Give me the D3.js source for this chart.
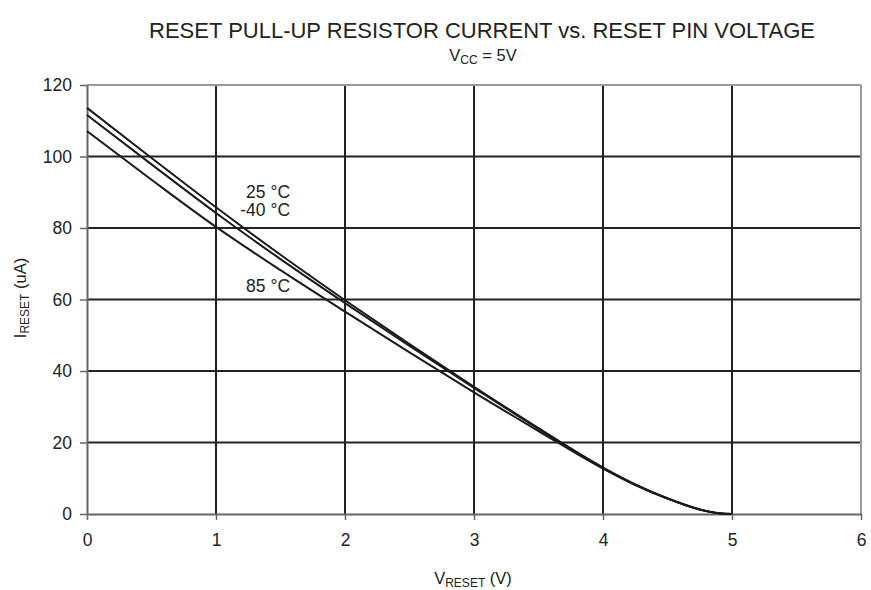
<!DOCTYPE html>
<html>
<head>
<meta charset="utf-8">
<script src="https://cdn.jsdelivr.net/npm/d3@7/dist/d3.min.js"></script>
<style>
  body { margin: 0; background: #fff; }
  svg { font-family: "Liberation Sans", Arial, sans-serif; }
</style>
</head>
<body>
<svg id="chart" width="871" height="590"></svg>
<script>
// Reset pin voltage (V)
const vReset = [0, 0.5, 1, 1.5, 2, 2.5, 3, 3.5, 4, 4.25, 4.5, 4.75, 4.9, 5];
// Pull-up current (uA) per temperature
const i25 = [113.6, 99.6, 85.8, 72.5, 59.8, 47.5, 35.6, 24.0, 13.0, 8.3, 4.4, 1.3, 0.2, 0];
const iM40 = [111.6, 97.8, 84.2, 71.3, 59.0, 47.0, 35.3, 23.8, 12.9, 8.2, 4.3, 1.2, 0.2, 0];
const i85 = [107.1, 93.5, 80.3, 68.2, 56.6, 45.2, 34.0, 23.2, 12.7, 8.1, 4.3, 1.3, 0.2, 0];

const xTicks = [0, 1, 2, 3, 4, 5, 6];
const yTicks = [0, 20, 40, 60, 80, 100, 120];

const seriesLabels = [
  { text: "25 °C", x: 1.574, y: 88.5 },
  { text: "-40 °C", x: 1.574, y: 83.4 },
  { text: "85 °C", x: 1.574, y: 62.0 }
];

const svg = d3.select("#chart");
const plotL = 87, plotR = 861, plotT = 85, plotB = 514;

const x = d3.scaleLinear().domain([0, 6]).range([plotL, plotR]);
const y = d3.scaleLinear().domain([0, 120]).range([plotB, plotT]);

// Titles
svg.append("text").attr("x", 482).attr("y", 38).attr("text-anchor", "middle")
  .attr("font-size", 22).attr("fill", "#222")
  .text("RESET PULL-UP RESISTOR CURRENT vs. RESET PIN VOLTAGE");
const sub = svg.append("text").attr("x", 483).attr("y", 61).attr("text-anchor", "middle")
  .attr("font-size", 16.5).attr("fill", "#222");
sub.append("tspan").text("V");
sub.append("tspan").attr("font-size", 12).attr("dy", 3).text("CC");
sub.append("tspan").attr("dy", -3).text(" = 5V");

// Grid lines
const grid = svg.append("g");
grid.selectAll("line.h").data(yTicks.filter(d => d > 0 && d < 120)).join("line")
  .attr("class", "h")
  .attr("x1", plotL).attr("x2", plotR)
  .attr("y1", d => y(d)).attr("y2", d => y(d))
  .attr("stroke", "#222").attr("stroke-width", 2);
grid.selectAll("line.v").data(xTicks.filter(d => d > 0 && d < 6)).join("line")
  .attr("class", "v")
  .attr("y1", plotT).attr("y2", plotB)
  .attr("x1", d => x(d)).attr("x2", d => x(d))
  .attr("stroke", "#222").attr("stroke-width", 2);

// Frame top/right
svg.append("line").attr("x1", plotL).attr("x2", plotR).attr("y1", plotT).attr("y2", plotT)
  .attr("stroke", "#999").attr("stroke-width", 2);
svg.append("line").attr("x1", plotR).attr("x2", plotR).attr("y1", plotT).attr("y2", plotB)
  .attr("stroke", "#999").attr("stroke-width", 2);

// Axes
const fmt = d3.format("d");
const xAxis = svg.append("g").attr("transform", `translate(0,${plotB})`)
  .call(d3.axisBottom(x).tickValues(xTicks).tickFormat(fmt).tickSize(6).tickSizeOuter(0).tickPadding(14));
const yAxis = svg.append("g").attr("transform", `translate(${plotL},0)`)
  .call(d3.axisLeft(y).tickValues(yTicks).tickFormat(fmt).tickSize(7).tickSizeOuter(0).tickPadding(8));
[xAxis, yAxis].forEach(a => {
  a.select(".domain").attr("stroke", "#666").attr("stroke-width", 2);
  a.selectAll(".tick line").attr("stroke", "#666").attr("stroke-width", 1.5);
  a.selectAll(".tick text").attr("font-size", 17.5).attr("fill", "#222")
    .attr("font-family", "Liberation Sans, Arial, sans-serif");
});

// Curves
const line = d3.line().x(d => x(d[0])).y(d => y(d[1])).curve(d3.curveMonotoneX);
[i25, iM40, i85].forEach(s => {
  svg.append("path").datum(vReset.map((v, i) => [v, s[i]]))
    .attr("d", line).attr("fill", "none").attr("stroke", "#1a1a1a").attr("stroke-width", 2);
});

// Series labels
svg.selectAll("text.lbl").data(seriesLabels).join("text")
  .attr("class", "lbl")
  .attr("x", d => x(d.x)).attr("y", d => y(d.y)).attr("text-anchor", "end")
  .attr("font-size", 17.5).attr("fill", "#222").text(d => d.text);

// Axis titles
const xt = svg.append("text").attr("x", 473).attr("y", 584).attr("text-anchor", "middle")
  .attr("font-size", 16.5).attr("fill", "#222");
xt.append("tspan").text("V");
xt.append("tspan").attr("font-size", 12).attr("dy", 3).text("RESET");
xt.append("tspan").attr("dy", -3).text(" (V)");

const yt = svg.append("text").attr("transform", "translate(26,298) rotate(-90)")
  .attr("text-anchor", "middle").attr("font-size", 16.5).attr("fill", "#222");
yt.append("tspan").text("I");
yt.append("tspan").attr("font-size", 12).attr("dy", 3).text("RESET");
yt.append("tspan").attr("dy", -3).text(" (uA)");
</script>
</body>
</html>
